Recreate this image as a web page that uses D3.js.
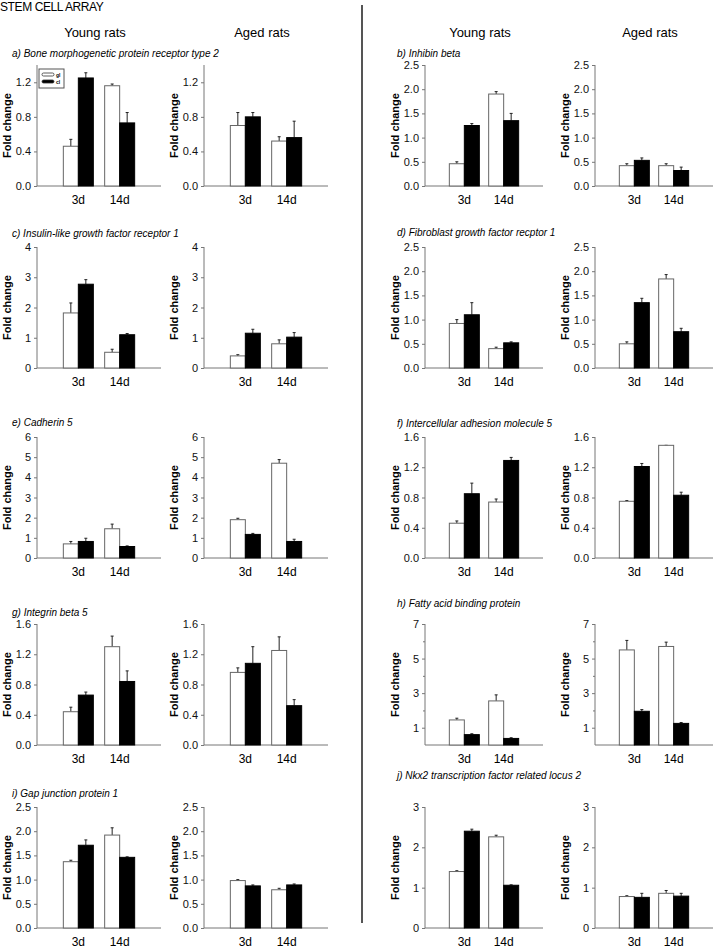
<!DOCTYPE html>
<html>
<head>
<meta charset="utf-8">
<script src="https://cdn.jsdelivr.net/npm/d3@7"></script>
<style>
  body { margin: 0; background: #fff; }
  text { font-family: "Liberation Sans", Arial, sans-serif; }
</style>
</head>
<body>
<div id="chart-area"></div>
<script>
// panel titles, in reading order a..j
const genes = [
    "a) Bone morphogenetic protein receptor type 2",
    "b) Inhibin beta",
    "c) Insulin-like growth factor receptor 1",
    "d) Fibroblast growth factor recptor 1",
    "e) Cadherin 5",
    "f) Intercellular adhesion molecule 5",
    "g) Integrin beta 5",
    "h) Fatty acid binding protein",
    "i) Gap junction protein 1",
    "j) Nkx2 transcription factor related locus 2"
]
const days = ["3d", "14d"]
const groups = ["Young rats", "Aged rats"]
const legendLabels = ["gl", "cl"]

// y axis top value and labelled ticks for each gene
const yMax = [1.4, 2.5, 4, 2.5, 6, 1.6, 1.6, 7, 2.5, 3]
const yTicks = [
    [0, 0.4, 0.8, 1.2],
    [0, 0.5, 1, 1.5, 2, 2.5],
    [0, 1, 2, 3, 4],
    [0, 0.5, 1, 1.5, 2, 2.5],
    [0, 1, 2, 3, 4, 5, 6],
    [0, 0.4, 0.8, 1.2, 1.6],
    [0, 0.4, 0.8, 1.2, 1.6],
    [1, 3, 5, 7],
    [0, 0.5, 1, 1.5, 2, 2.5],
    [0, 1, 2, 3]
]
const yMinor = [[], [], [], [], [], [], [], [2, 4, 6], [], []]
const yFormat = [".1f", ".1f", "d", ".1f", "d", ".1f", ".1f", "d", ".1f", "d"]

// fold change [3d, 14d]
const youngGl = [[0.46, 1.16], [0.46, 1.90], [1.82, 0.52], [0.92, 0.40], [0.70, 1.45],
                 [0.46, 0.74], [0.44, 1.30], [1.45, 2.55], [1.37, 1.92], [1.40, 2.26]]
const youngCl = [[1.25, 0.73], [1.25, 1.35], [2.77, 1.10], [1.10, 0.52], [0.82, 0.57],
                 [0.85, 1.29], [0.66, 0.84], [0.60, 0.38], [1.71, 1.46], [2.40, 1.06]]
const agedGl  = [[0.70, 0.52], [0.42, 0.42], [0.40, 0.80], [0.50, 1.84], [1.90, 4.70],
                 [0.75, 1.49], [0.96, 1.25], [5.50, 5.70], [0.98, 0.79], [0.78, 0.86]]
const agedCl  = [[0.80, 0.56], [0.53, 0.32], [1.15, 1.02], [1.35, 0.75], [1.17, 0.82],
                 [1.21, 0.83], [1.08, 0.52], [1.95, 1.25], [0.87, 0.89], [0.76, 0.79]]
// error bar size (upper only) [3d, 14d]
const youngGlErr = [[0.08, 0.02], [0.04, 0.05], [0.33, 0.10], [0.08, 0.03], [0.12, 0.23],
                    [0.03, 0.04], [0.06, 0.14], [0.10, 0.35], [0.03, 0.15], [0.02, 0.04]]
const youngClErr = [[0.06, 0.12], [0.04, 0.15], [0.15, 0.04], [0.25, 0.02], [0.16, 0.03],
                    [0.14, 0.04], [0.04, 0.14], [0.05, 0.04], [0.11, 0.01], [0.05, 0.01]]
const agedGlErr  = [[0.15, 0.05], [0.04, 0.04], [0.04, 0.13], [0.04, 0.09], [0.07, 0.18],
                    [0.01, 0.00], [0.06, 0.18], [0.55, 0.25], [0.02, 0.03], [0.02, 0.07]]
const agedClErr  = [[0.05, 0.19], [0.05, 0.07], [0.13, 0.15], [0.09, 0.07], [0.05, 0.11],
                    [0.04, 0.04], [0.22, 0.08], [0.10, 0.05], [0.02, 0.02], [0.10, 0.07]]

const svg = d3.select("#chart-area").append("svg")
    .attr("width", 720)
    .attr("height", 948)

// title and column headers
svg.append("text").attr("x", 0).attr("y", 11)
    .attr("font-size", 12).attr("letter-spacing", -0.4)
    .text("STEM CELL ARRAY")

const rowTop = [65, 247, 437, 624, 807]
const plotH = 121
// baseline of each panel title, a..j
const titleY = [57, 57, 237, 236, 426, 427, 616, 607, 797, 779]
const columns = [
    {titleX: 12, axisX: [37, 204], width: 124},
    {titleX: 397, axisX: [425, 595], width: 118}
]

columns.forEach(col => {
    col.axisX.forEach((ax, gi) => {
        svg.append("text")
            .attr("x", ax + col.width / 2 - 4).attr("y", 37)
            .attr("text-anchor", "middle").attr("font-size", 13)
            .text(groups[gi])
    })
})

// divider
svg.append("line")
    .attr("x1", 362).attr("x2", 362).attr("y1", 5).attr("y2", 923)
    .attr("stroke", "#555").attr("stroke-width", 2)

genes.forEach((gene, k) => {
    const col = columns[k % 2]
    const top = rowTop[Math.floor(k / 2)]

    svg.append("text")
        .attr("x", col.titleX).attr("y", titleY[k])
        .attr("font-size", 10).attr("font-style", "italic")
        .text(gene)

    const series = [
        [youngGl[k], youngCl[k], youngGlErr[k], youngClErr[k]],
        [agedGl[k], agedCl[k], agedGlErr[k], agedClErr[k]]
    ]

    series.forEach((s, gi) => {
        const ax = col.axisX[gi]
        const g = svg.append("g").attr("transform", `translate(${ax},${top})`)

        const y = d3.scaleLinear().domain([0, yMax[k]]).range([plotH, 0])
        const x = d3.scalePoint().domain(days).range([0, col.width]).padding(1)

        // y axis
        const yAxis = d3.axisLeft(y).tickValues(yTicks[k])
            .tickFormat(d3.format(yFormat[k])).tickSize(3).tickSizeOuter(0)
        const ya = g.append("g").call(yAxis)
        ya.select(".domain").attr("stroke", "#777")
            .attr("d", `M0,0V${plotH}`)
        ya.selectAll(".tick line").attr("stroke", "#777")
        ya.selectAll(".tick text").attr("font-size", 11)
            .attr("font-family", "Liberation Sans, Arial, sans-serif").attr("fill", "#111")
        if (yMinor[k].length) {
            g.append("g").call(d3.axisLeft(y).tickValues(yMinor[k]).tickFormat("").tickSize(2))
                .call(a => a.select(".domain").remove())
                .selectAll("line").attr("stroke", "#777")
        }

        // x axis baseline and labels
        g.append("line").attr("x1", 0).attr("x2", col.width)
            .attr("y1", plotH).attr("y2", plotH).attr("stroke", "#777")
        g.selectAll(".xlab").data(days).enter().append("text")
            .attr("x", d => x(d)).attr("y", plotH + 18)
            .attr("text-anchor", "middle").attr("font-size", 12)
            .text(d => d)

        // y label
        g.append("text")
            .attr("transform", `translate(-26,${plotH / 2}) rotate(-90)`)
            .attr("text-anchor", "middle").attr("font-size", 11).attr("font-weight", "bold")
            .text("Fold change")

        const bw = 15
        const bars = []
        days.forEach((d, i) => {
            bars.push({x: x(d) - bw, v: s[0][i], e: s[2][i], fill: "#fff"})
            bars.push({x: x(d), v: s[1][i], e: s[3][i], fill: "#000"})
        })

        // error bars (upper only)
        g.selectAll(".err").data(bars).enter().append("path")
            .attr("d", b => {
                const cx = b.x + bw / 2
                return `M${cx},${y(b.v)}V${y(b.v + b.e)}M${cx - 1.5},${y(b.v + b.e)}H${cx + 1.5}`
            })
            .attr("stroke", "#222").attr("fill", "none")

        g.selectAll(".bar").data(bars).enter().append("rect")
            .attr("x", b => b.x)
            .attr("y", b => y(b.v))
            .attr("width", bw)
            .attr("height", b => plotH - y(b.v))
            .attr("fill", b => b.fill)
            .attr("stroke", b => b.fill === "#000" ? "#000" : "#666")
            .attr("stroke-width", 1)

        // legend only in the first panel
        if (k === 0 && gi === 0) {
            const lg = g.append("g").attr("transform", "translate(2,4)")
            lg.append("rect").attr("width", 25).attr("height", 19)
                .attr("fill", "#fff").attr("stroke", "#555")
            legendLabels.forEach((l, i) => {
                lg.append("rect").attr("x", 3).attr("y", 4 + i * 7)
                    .attr("width", 12).attr("height", 3).attr("rx", 1.5)
                    .attr("fill", i ? "#000" : "#fff").attr("stroke", "#333").attr("stroke-width", 0.8)
                lg.append("text").attr("x", 17).attr("y", 8 + i * 7)
                    .attr("font-size", 5).attr("font-weight", "bold")
                    .text(l)
            })
        }
    })
})
</script>
</body>
</html>
